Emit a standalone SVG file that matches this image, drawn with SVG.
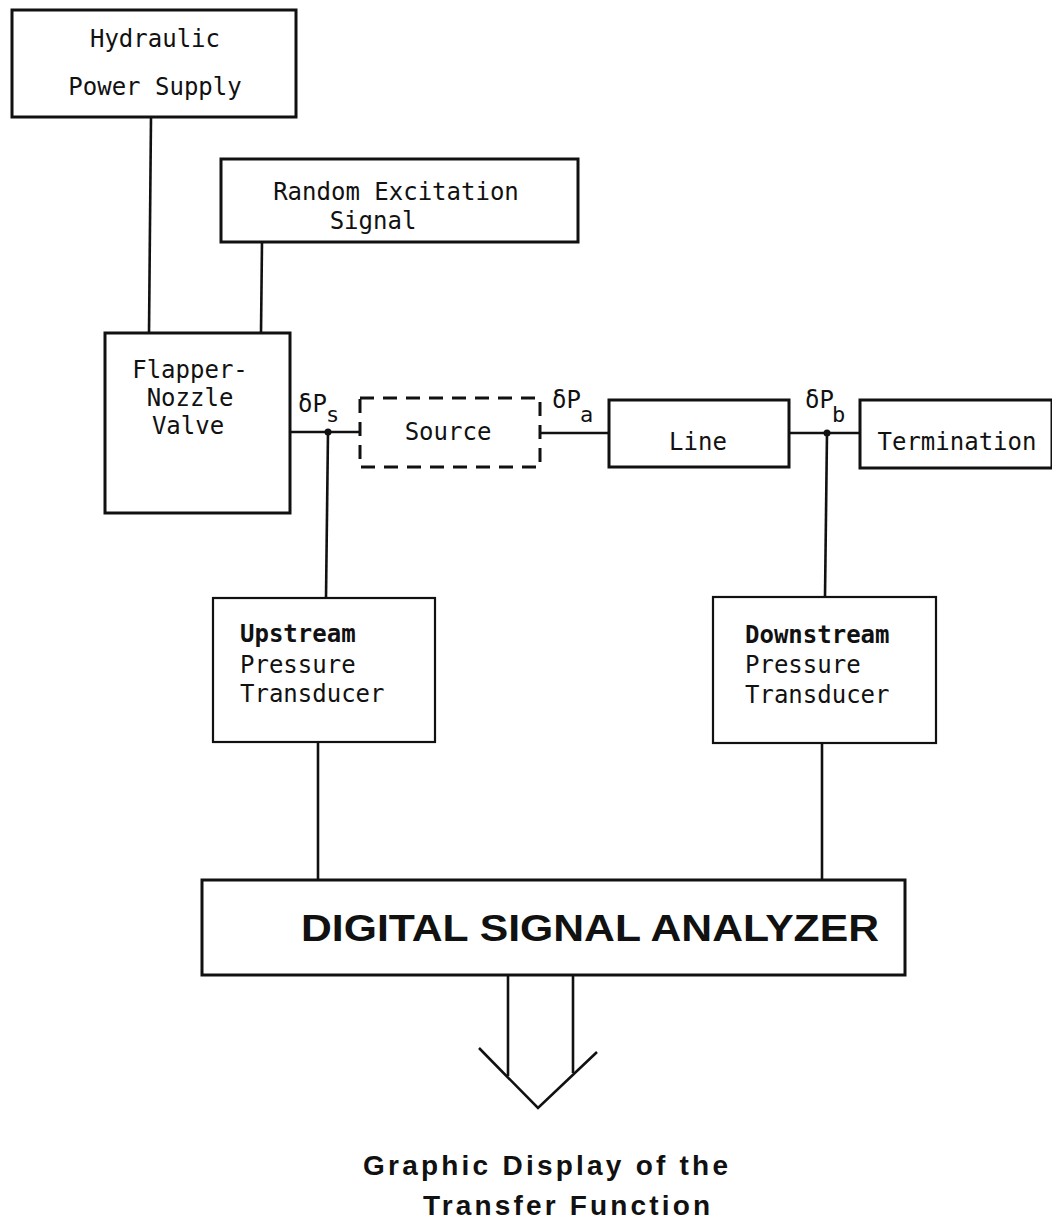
<svg xmlns="http://www.w3.org/2000/svg" width="1052" height="1227" viewBox="0 0 1052 1227">
<style>
.box{fill:#fff;stroke:#111;stroke-width:3}
.thin{fill:#fff;stroke:#111;stroke-width:2.2}
.dash{fill:none;stroke:#111;stroke-width:3;stroke-dasharray:14 9}
.ln{stroke:#111;stroke-width:2.6;fill:none}
.t{font-family:"DejaVu Sans Mono","Liberation Mono",monospace;font-size:24px;fill:#111}
.c{text-anchor:middle}
.sub{font-family:"DejaVu Sans Mono","Liberation Mono",monospace;font-size:22px;fill:#111}
.b{font-family:"Liberation Sans",Arial,sans-serif;font-weight:bold;fill:#111}
</style>
<rect width="1052" height="1227" fill="#fff"/>
<g id="connectors">
<line class="ln" x1="151" y1="117" x2="149" y2="333"/>
<line class="ln" x1="262" y1="242" x2="261" y2="333"/>
<line class="ln" x1="290" y1="432" x2="360" y2="432"/>
<line class="ln" x1="328" y1="432" x2="326" y2="598"/>
<line class="ln" x1="540" y1="433" x2="609" y2="433"/>
<line class="ln" x1="789" y1="433" x2="860" y2="433"/>
<line class="ln" x1="827" y1="433" x2="825" y2="597"/>
<line class="ln" x1="318" y1="742" x2="318" y2="880"/>
<line class="ln" x1="822" y1="743" x2="822" y2="880"/>
<circle cx="328" cy="432" r="3.5" fill="#111"/>
<circle cx="827" cy="433" r="3.5" fill="#111"/>
<line class="ln" x1="508" y1="975" x2="508" y2="1076"/>
<line class="ln" x1="573" y1="975" x2="573" y2="1073"/>
<polyline class="ln" points="479,1048 538,1108 597,1052"/>
</g>
<g id="hydraulic">
<rect class="box" x="12" y="10" width="284" height="107"/>
<text class="t c" x="155" y="47">Hydraulic</text>
<text class="t c" x="155" y="95">Power Supply</text>
</g>
<g id="random">
<rect class="box" x="221" y="159" width="357" height="83"/>
<text class="t c" x="396" y="200">Random Excitation</text>
<text class="t c" x="373" y="229">Signal</text>
</g>
<g id="flapper">
<rect class="box" x="105" y="333" width="185" height="180"/>
<text class="t c" x="190" y="378">Flapper-</text>
<text class="t c" x="190" y="406">Nozzle</text>
<text class="t c" x="188" y="434">Valve</text>
</g>
<g id="labels">
<text class="t" x="298" y="412">δP</text><text class="sub" x="326" y="422">s</text>
<text class="t" x="552" y="408">δP</text><text class="sub" x="580" y="422">a</text>
<text class="t" x="805" y="408">δP</text><text class="sub" x="832" y="422">b</text>
</g>
<g id="source">
<rect class="dash" x="360" y="398" width="180" height="69"/>
<text class="t c" x="448" y="440">Source</text>
</g>
<g id="line">
<rect class="box" x="609" y="400" width="180" height="67"/>
<text class="t c" x="698" y="450">Line</text>
</g>
<g id="termination">
<rect class="box" x="860" y="400" width="192" height="68"/>
<text class="t c" x="957" y="450">Termination</text>
</g>
<g id="upstream">
<rect class="thin" x="213" y="598" width="222" height="144"/>
<text class="t" x="240" y="642" font-weight="bold">Upstream</text>
<text class="t" x="240" y="673">Pressure</text>
<text class="t" x="240" y="702">Transducer</text>
</g>
<g id="downstream">
<rect class="thin" x="713" y="597" width="223" height="146"/>
<text class="t" x="745" y="643" font-weight="bold">Downstream</text>
<text class="t" x="745" y="673">Pressure</text>
<text class="t" x="745" y="703">Transducer</text>
</g>
<g id="dsa">
<rect class="box" x="202" y="880" width="703" height="95"/>
<text class="b" x="301" y="941" font-size="36" textLength="578" lengthAdjust="spacingAndGlyphs">DIGITAL SIGNAL ANALYZER</text>
</g>
<g id="output">
<text class="b" x="363" y="1175" font-size="28" textLength="365" lengthAdjust="spacing">Graphic Display of the</text>
<text class="b" x="423" y="1215" font-size="28" textLength="287" lengthAdjust="spacing">Transfer Function</text>
</g>
</svg>
